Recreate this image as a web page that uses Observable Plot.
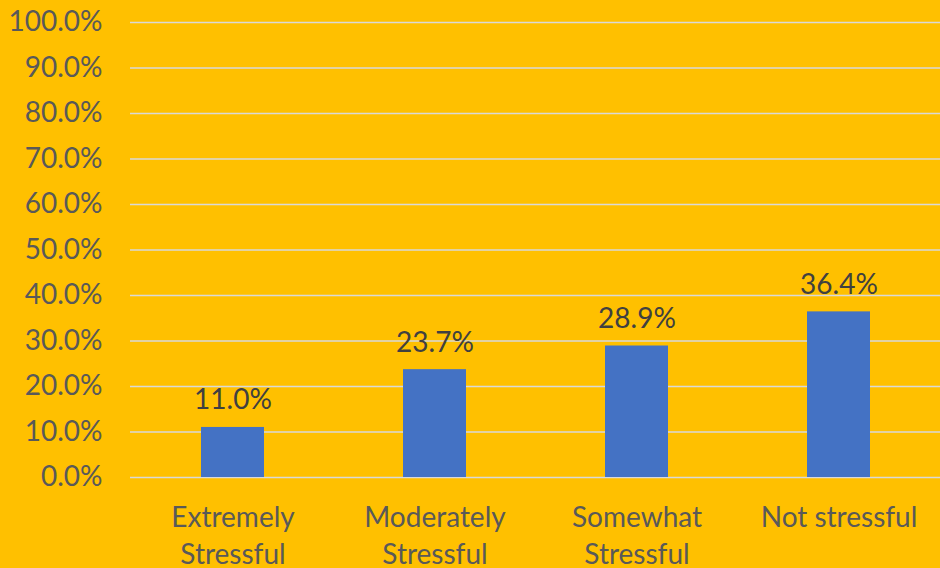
<!DOCTYPE html>
<html><head><meta charset="utf-8">
<script src="https://cdn.jsdelivr.net/npm/d3@7"></script>
<script src="https://cdn.jsdelivr.net/npm/@observablehq/plot@0.6"></script>
<style>
html,body{margin:0;padding:0;background:#FFC000;}
svg{display:block;}
</style></head><body>
<div id="chart"></div>
<script>
const categories = ["Extremely\nStressful", "Moderately\nStressful", "Somewhat\nStressful", "Not stressful"];
const values = [0.110, 0.237, 0.289, 0.364];
const yTicks = [0, 0.1, 0.2, 0.3, 0.4, 0.5, 0.6, 0.7, 0.8, 0.9, 1.0];

const data = categories.map((c, i) => ({category: c, value: values[i]}));
const font = "Lato, 'Open Sans', sans-serif";

const chart = Plot.plot({
  width: 940,
  height: 568,
  marginLeft: 130,
  marginRight: 0,
  marginTop: 22,
  marginBottom: 91,
  style: {background: "#FFC000", fontFamily: font, fontSize: "28px", color: "#595959", overflow: "visible"},
  x: {domain: categories, paddingInner: 0.69, paddingOuter: 0.345, label: null},
  y: {domain: [0, 1], label: null},
  marks: [
    Plot.ruleY(yTicks, {stroke: "#D9D9D9", strokeWidth: 1.5}),
    Plot.barY(data, {x: "category", y: "value", fill: "#4472C4"}),
    Plot.text(data, {x: "category", y: "value", text: d => d3.format(".1%")(d.value), dy: -27, fill: "#404040", fontSize: 28, textAnchor: "middle", lineAnchor: "middle"}),
    Plot.axisY({ticks: yTicks, tickFormat: d3.format(".1%"), tickSize: 0, tickPadding: 28, fill: "#595959", fontSize: 28, label: null}),
    Plot.axisX({tickSize: 0, tickPadding: 24, fill: "#595959", fontSize: 28, lineHeight: 1.3, label: null, textOverflow: null, lineWidth: Infinity})
  ]
});
document.getElementById("chart").appendChild(chart);
</script>
</body></html>
